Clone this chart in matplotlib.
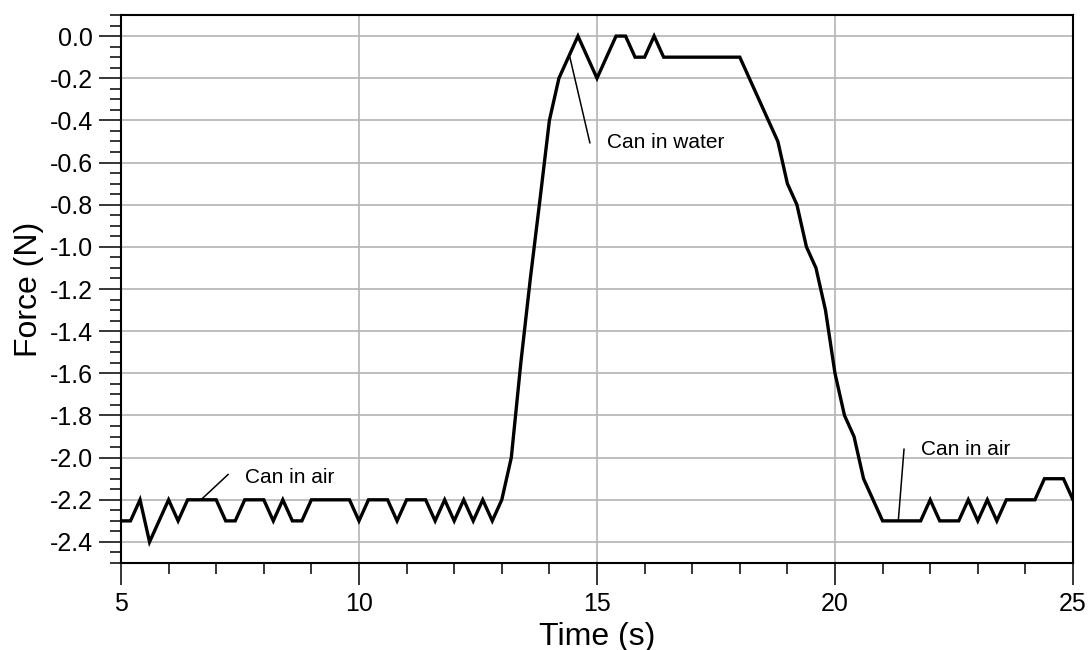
import numpy as np
import matplotlib
matplotlib.use('Agg')
import matplotlib.pyplot as plt
from matplotlib.ticker import MultipleLocator, FuncFormatter

# data (force sensor, 0.2 s sampling)
time_s = [
    5.0, 5.2, 5.4, 5.6, 5.8, 6.0, 6.2, 6.4, 6.6, 6.8,
    7.0, 7.2, 7.4, 7.6, 7.8, 8.0, 8.2, 8.4, 8.6, 8.8,
    9.0, 9.2, 9.4, 9.6, 9.8, 10.0, 10.2, 10.4, 10.6, 10.8,
    11.0, 11.2, 11.4, 11.6, 11.8, 12.0, 12.2, 12.4, 12.6, 12.8,
    13.0, 13.2, 13.4, 13.6, 13.8, 14.0, 14.2, 14.4, 14.6, 14.8,
    15.0, 15.2, 15.4, 15.6, 15.8, 16.0, 16.2, 16.4, 16.6, 16.8,
    17.0, 17.2, 17.4, 17.6, 17.8, 18.0, 18.2, 18.4, 18.6, 18.8,
    19.0, 19.2, 19.4, 19.6, 19.8, 20.0, 20.2, 20.4, 20.6, 20.8,
    21.0, 21.2, 21.4, 21.6, 21.8, 22.0, 22.2, 22.4, 22.6, 22.8,
    23.0, 23.2, 23.4, 23.6, 23.8, 24.0, 24.2, 24.4, 24.6, 24.8,
    25.0,
]
force_n = [
    -2.3, -2.3, -2.2, -2.4, -2.3, -2.2, -2.3, -2.2, -2.2, -2.2,
    -2.2, -2.3, -2.3, -2.2, -2.2, -2.2, -2.3, -2.2, -2.3, -2.3,
    -2.2, -2.2, -2.2, -2.2, -2.2, -2.3, -2.2, -2.2, -2.2, -2.3,
    -2.2, -2.2, -2.2, -2.3, -2.2, -2.3, -2.2, -2.3, -2.2, -2.3,
    -2.2, -2.0, -1.55, -1.15, -0.78, -0.4, -0.2, -0.1, 0.0, -0.1,
    -0.2, -0.1, 0.0, 0.0, -0.1, -0.1, 0.0, -0.1, -0.1, -0.1,
    -0.1, -0.1, -0.1, -0.1, -0.1, -0.1, -0.2, -0.3, -0.4, -0.5,
    -0.7, -0.8, -1.0, -1.1, -1.3, -1.6, -1.8, -1.9, -2.1, -2.2,
    -2.3, -2.3, -2.3, -2.3, -2.3, -2.2, -2.3, -2.3, -2.3, -2.2,
    -2.3, -2.2, -2.3, -2.2, -2.2, -2.2, -2.2, -2.1, -2.1, -2.1,
    -2.2,
]

# annotations: text, point on curve, end of leader line, text anchor
labels = ['Can in air', 'Can in water', 'Can in air']
label_points = [(6.68, -2.2), (14.43, -0.1), (21.33, -2.3)]
label_ends = [(7.25, -2.08), (14.85, -0.506), (21.45, -1.96)]
label_text_pos = [(7.61, -2.095), (15.2, -0.506), (21.81, -1.963)]


def fmt_force(v, pos):
    s = '%.1f' % v
    if s == '-0.0':
        s = '0.0'
    return s


def make_plot():
    plt.rcParams['font.family'] = ['Liberation Sans', 'DejaVu Sans']
    plt.rcParams['axes.unicode_minus'] = False

    fig = plt.figure(figsize=(10.89, 6.5), dpi=100)
    ax = fig.add_axes([0.1111, 0.1338, 0.8742, 0.8431])

    ax.plot(time_s, force_n, color='black', linewidth=2.4, zorder=3,
            solid_joinstyle='miter')

    for txt, p, e, tp in zip(labels, label_points, label_ends, label_text_pos):
        ax.plot([p[0], e[0]], [p[1], e[1]], color='black', linewidth=1.1, zorder=4)
        ax.text(tp[0], tp[1], txt, fontsize=15, va='center', ha='left', zorder=4)

    ax.set_xlim(5, 25)
    ax.set_ylim(-2.5, 0.1)

    ax.xaxis.set_major_locator(MultipleLocator(5))
    ax.xaxis.set_minor_locator(MultipleLocator(1))
    ax.yaxis.set_major_locator(MultipleLocator(0.2))
    ax.yaxis.set_minor_locator(MultipleLocator(0.05))
    ax.yaxis.set_major_formatter(FuncFormatter(fmt_force))

    ax.grid(True, which='major', color='#b4b4b4', linewidth=1.2, zorder=1)
    ax.tick_params(which='major', length=16, width=1.1, labelsize=18, pad=4,
                   direction='out')
    ax.tick_params(axis='x', which='major', pad=5)
    ax.tick_params(which='minor', length=8, width=1.1, direction='out')

    for sp in ax.spines.values():
        sp.set_linewidth(1.5)

    ax.set_xlabel('Time (s)', fontsize=23, labelpad=4)
    ax.set_ylabel('Force (N)', fontsize=23, labelpad=4)

    fig.savefig('out.png', dpi=100)


if __name__ == "__main__":
    make_plot()
